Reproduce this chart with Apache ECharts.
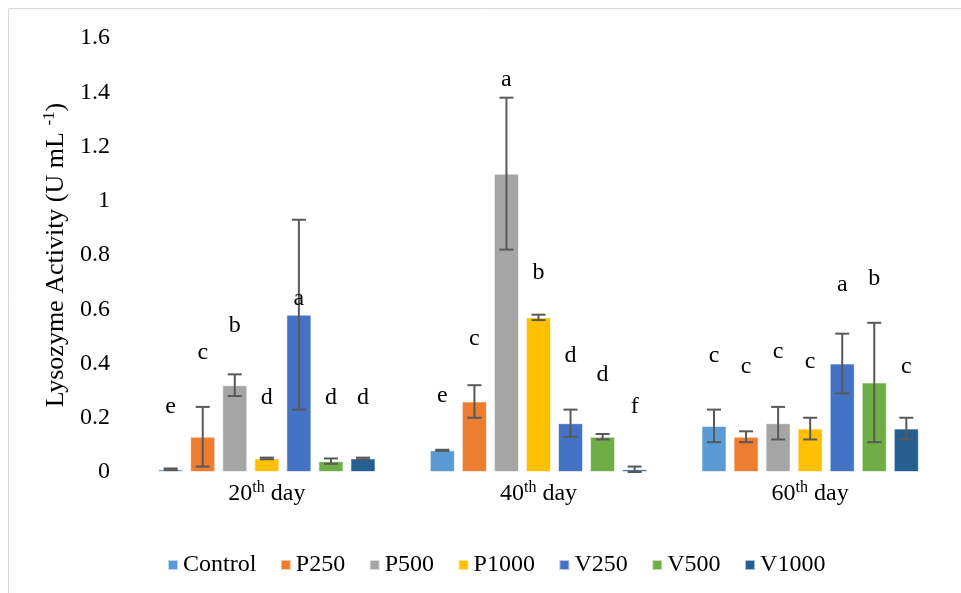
<!DOCTYPE html>
<html>
<head>
<meta charset="utf-8">
<script src="https://cdn.jsdelivr.net/npm/echarts@6/dist/echarts.min.js"></script>
<style>html,body{margin:0;padding:0;background:#fff}#c{width:961px;height:593px}</style>
</head>
<body>
<div id="c"></div>
<script>
// ---- data ----
const categories = ['20th day', '40th day', '60th day'];
const treatments = ['Control', 'P250', 'P500', 'P1000', 'V250', 'V500', 'V1000'];
const yTicks = [0, 0.2, 0.4, 0.6, 0.8, 1, 1.2, 1.4, 1.6];

const meanControl = [0.01, 0.08, 0.17];
const meanP250    = [0.13, 0.26, 0.13];
const meanP500    = [0.32, 1.10, 0.18];
const meanP1000   = [0.05, 0.57, 0.16];
const meanV250    = [0.58, 0.18, 0.40];
const meanV500    = [0.04, 0.13, 0.33];
const meanV1000   = [0.05, 0.01, 0.16];

const errControl = [0.003, 0.002, 0.06];
const errP250    = [0.11, 0.06, 0.02];
const errP500    = [0.04, 0.28, 0.06];
const errP1000   = [0.003, 0.01, 0.04];
const errV250    = [0.35, 0.05, 0.11];
const errV500    = [0.01, 0.01, 0.22];
const errV1000   = [0.003, 0.01, 0.04];

const lettersControl = ['e', 'e', 'c'];
const lettersP250    = ['c', 'c', 'c'];
const lettersP500    = ['b', 'a', 'c'];
const lettersP1000   = ['d', 'b', 'c'];
const lettersV250    = ['a', 'd', 'a'];
const lettersV500    = ['d', 'd', 'b'];
const lettersV1000   = ['d', 'f', 'c'];

// level (in y-axis units) at which each significance letter sits
const letterLevelControl = [0.24, 0.28, 0.43];
const letterLevelP250    = [0.44, 0.49, 0.39];
const letterLevelP500    = [0.54, 1.445, 0.445];
const letterLevelP1000   = [0.275, 0.735, 0.405];
const letterLevelV250    = [0.64, 0.43, 0.69];
const letterLevelV500    = [0.275, 0.36, 0.714];
const letterLevelV1000   = [0.275, 0.24, 0.39];

// ---- build ----
const means = [meanControl, meanP250, meanP500, meanP1000, meanV250, meanV500, meanV1000];
const errs = [errControl, errP250, errP500, errP1000, errV250, errV500, errV1000];
const letters = [lettersControl, lettersP250, lettersP500, lettersP1000, lettersV250, lettersV500, lettersV1000];
const letterLevels = [letterLevelControl, letterLevelP250, letterLevelP500, letterLevelP1000, letterLevelV250, letterLevelV500, letterLevelV1000];
const colors = ['#5B9BD5', '#ED7D31', '#A5A5A5', '#FFC000', '#4472C4', '#70AD47', '#255E91'];

const FONT = "'Liberation Serif', 'Times New Roman', serif";
const CAT_GAP = 0.2, BAR_GAP = 0.28, N = treatments.length;

const series = [];
treatments.forEach((name, s) => {
  series.push({
    name: name,
    type: 'bar',
    data: means[s],
    itemStyle: { color: colors[s], borderColor: 'rgba(255,255,255,0.6)', borderWidth: 1 },
    barCategoryGap: (CAT_GAP * 100) + '%',
    barGap: (BAR_GAP * 100) + '%',
    z: 2
  });
});
treatments.forEach((name, s) => {
  series.push({
    name: 'err_' + name,
    type: 'custom',
    z: 5,
    silent: true,
    data: categories.map((c, i) => [i, means[s][i], errs[s][i], letterLevels[s][i]]),
    renderItem: function (params, api) {
      const ci = api.value(0), m = api.value(1), e = api.value(2), lv = api.value(3);
      const band = api.size([1, 0])[0];
      const usable = band * (1 - CAT_GAP);
      const bw = usable / (N + (N - 1) * BAR_GAP);
      const cx = api.coord([ci, 0])[0] - usable / 2 + s * bw * (1 + BAR_GAP) + bw / 2;
      const yT = api.coord([ci, m + e])[1];
      const yB = api.coord([ci, Math.max(0, m - e)])[1];
      const yL = api.coord([ci, lv])[1];
      const cap = 7;
      const st = { stroke: '#595959', lineWidth: 2 };
      return {
        type: 'group',
        children: [
          { type: 'line', shape: { x1: cx, y1: yT, x2: cx, y2: yB }, style: st },
          { type: 'line', shape: { x1: cx - cap, y1: yT, x2: cx + cap, y2: yT }, style: st },
          { type: 'line', shape: { x1: cx - cap, y1: yB, x2: cx + cap, y2: yB }, style: st },
          { type: 'text', style: { text: letters[s][params.dataIndex], x: cx, y: yL, align: 'center', verticalAlign: 'middle', font: '24px ' + FONT, fill: '#000' } }
        ]
      };
    }
  });
});

const chart = echarts.init(document.getElementById('c'), null, { renderer: 'canvas' });
chart.setOption({
  animation: false,
  backgroundColor: '#fff',
  textStyle: { fontFamily: FONT },
  graphic: [{
    type: 'rect', silent: true, z: -10,
    shape: { x: 8.5, y: 8.5, width: 1000, height: 1000 },
    style: { fill: 'none', stroke: '#d9d9d9', lineWidth: 1 }
  }],
  grid: { left: 131, right: 15, top: 38, bottom: 121, containLabel: false },
  legend: {
    data: treatments,
    left: 162, top: 548,
    icon: 'rect', itemWidth: 10, itemHeight: 10, itemGap: 23.5,
    textStyle: { fontFamily: FONT, fontSize: 24, color: '#000' }
  },
  xAxis: {
    type: 'category',
    data: categories,
    axisLine: { show: false },
    axisTick: { show: false },
    axisLabel: {
      margin: 8,
      formatter: function (v) {
        const m = v.match(/^(\d+)(\D+?)\s(.*)$/);
        return '{n|' + m[1] + '}{s|' + m[2] + '}{n| ' + m[3] + '}';
      },
      rich: {
        n: { fontFamily: FONT, fontSize: 24, color: '#000', lineHeight: 28 },
        s: { fontFamily: FONT, fontSize: 16, color: '#000', lineHeight: 16, verticalAlign: 'top' }
      }
    }
  },
  yAxis: {
    type: 'value',
    min: yTicks[0], max: yTicks[yTicks.length - 1], interval: yTicks[1] - yTicks[0],
    splitLine: { show: false },
    axisLine: { show: false },
    axisTick: { show: false },
    axisLabel: {
      margin: 21, fontFamily: FONT, fontSize: 24, color: '#000',
      formatter: v => String(+v.toFixed(1))
    },
    name: '{n|Lysozyme Activity (U mL }{s|-1}{n|)}',
    nameLocation: 'middle',
    nameGap: 54,
    nameTextStyle: {
      rich: {
        n: { fontFamily: FONT, fontSize: 26, color: '#000', lineHeight: 30 },
        s: { fontFamily: FONT, fontSize: 17, color: '#000', lineHeight: 17, verticalAlign: 'top' }
      }
    }
  },
  series: series
});
</script>
</body>
</html>
